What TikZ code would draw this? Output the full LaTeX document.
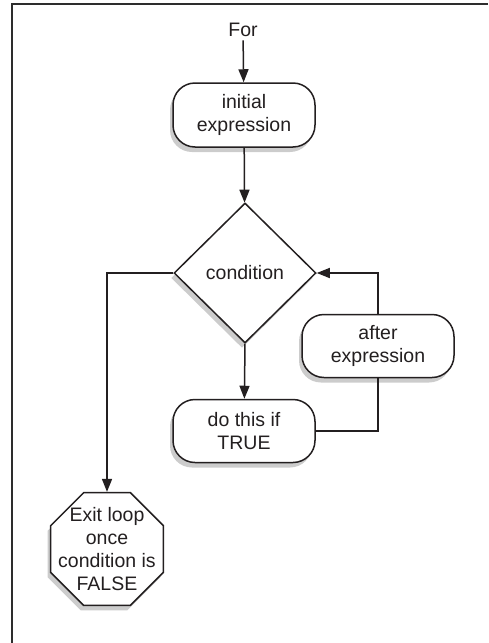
\documentclass[tikz,border=0pt]{standalone}
\usepackage{fontspec}
\setmainfont{Liberation Sans}
\usetikzlibrary{arrows.meta, positioning, shapes.geometric, shadows}
\definecolor{linecolor}{RGB}{35,31,32}
\definecolor{framecolor}{RGB}{45,45,45}
\tikzset{
  flowtext/.style = {font=\fontsize{19.5}{23}\selectfont, align=center, text=linecolor},
  shade/.style    = {drop shadow={shadow xshift=-3pt, shadow yshift=-5pt,
                     fill=black, opacity=0.2}},
  pill/.style     = {flowtext, shade, draw=linecolor, line width=1.5pt, fill=white,
                     rounded corners=22pt, inner sep=0pt},
  test/.style     = {flowtext, shade, diamond, draw=linecolor, line width=1.5pt,
                     fill=white, minimum width=142pt, minimum height=140pt, inner sep=0pt},
  stopsign/.style = {flowtext, shade, regular polygon, regular polygon sides=8,
                     draw=linecolor, line width=1.5pt, fill=white,
                     minimum size=122pt, inner sep=-16pt},
  arrow/.style    = {-{Triangle[length=13pt, width=10pt]}, line width=1.5pt, color=linecolor},
  link/.style     = {line width=1.5pt, color=linecolor},
}
\begin{document}
\begin{tikzpicture}[x=1pt, y=-1pt]
  \useasboundingbox (0,0) rectangle (488,643);
  % frame (top and left edge only)
  \draw[framecolor, line width=2pt] (488,4) -- (12,4) -- (12,643);
  % nodes
  \node[flowtext] (for) at (243,30) {For};
  \node[pill, minimum width=142pt, minimum height=64pt] (init) at (244,115)
    {initial\\expression};
  \node[test] (cond) at (245,273) {condition};
  \node[pill, minimum width=142pt, minimum height=63pt] (true) at (244,431)
    {do this if\\TRUE};
  \node[pill, minimum width=152pt, minimum height=63pt] (after) at (378,346)
    {after\\expression};
  \node[stopsign] (exit) at (107,549)
    {Exit loop\\once\\condition is\\FALSE};
  % connectors
  \draw[arrow] (for) -- (init);
  \draw[arrow] (init) -- (cond);
  \draw[arrow] (cond.south) -- (true);
  \draw[arrow] (cond.west) -| (exit.north);
  \draw[link] (true.east) -| (after.south);
  \draw[arrow] (after.north) |- (cond.east);
\end{tikzpicture}
\end{document}
